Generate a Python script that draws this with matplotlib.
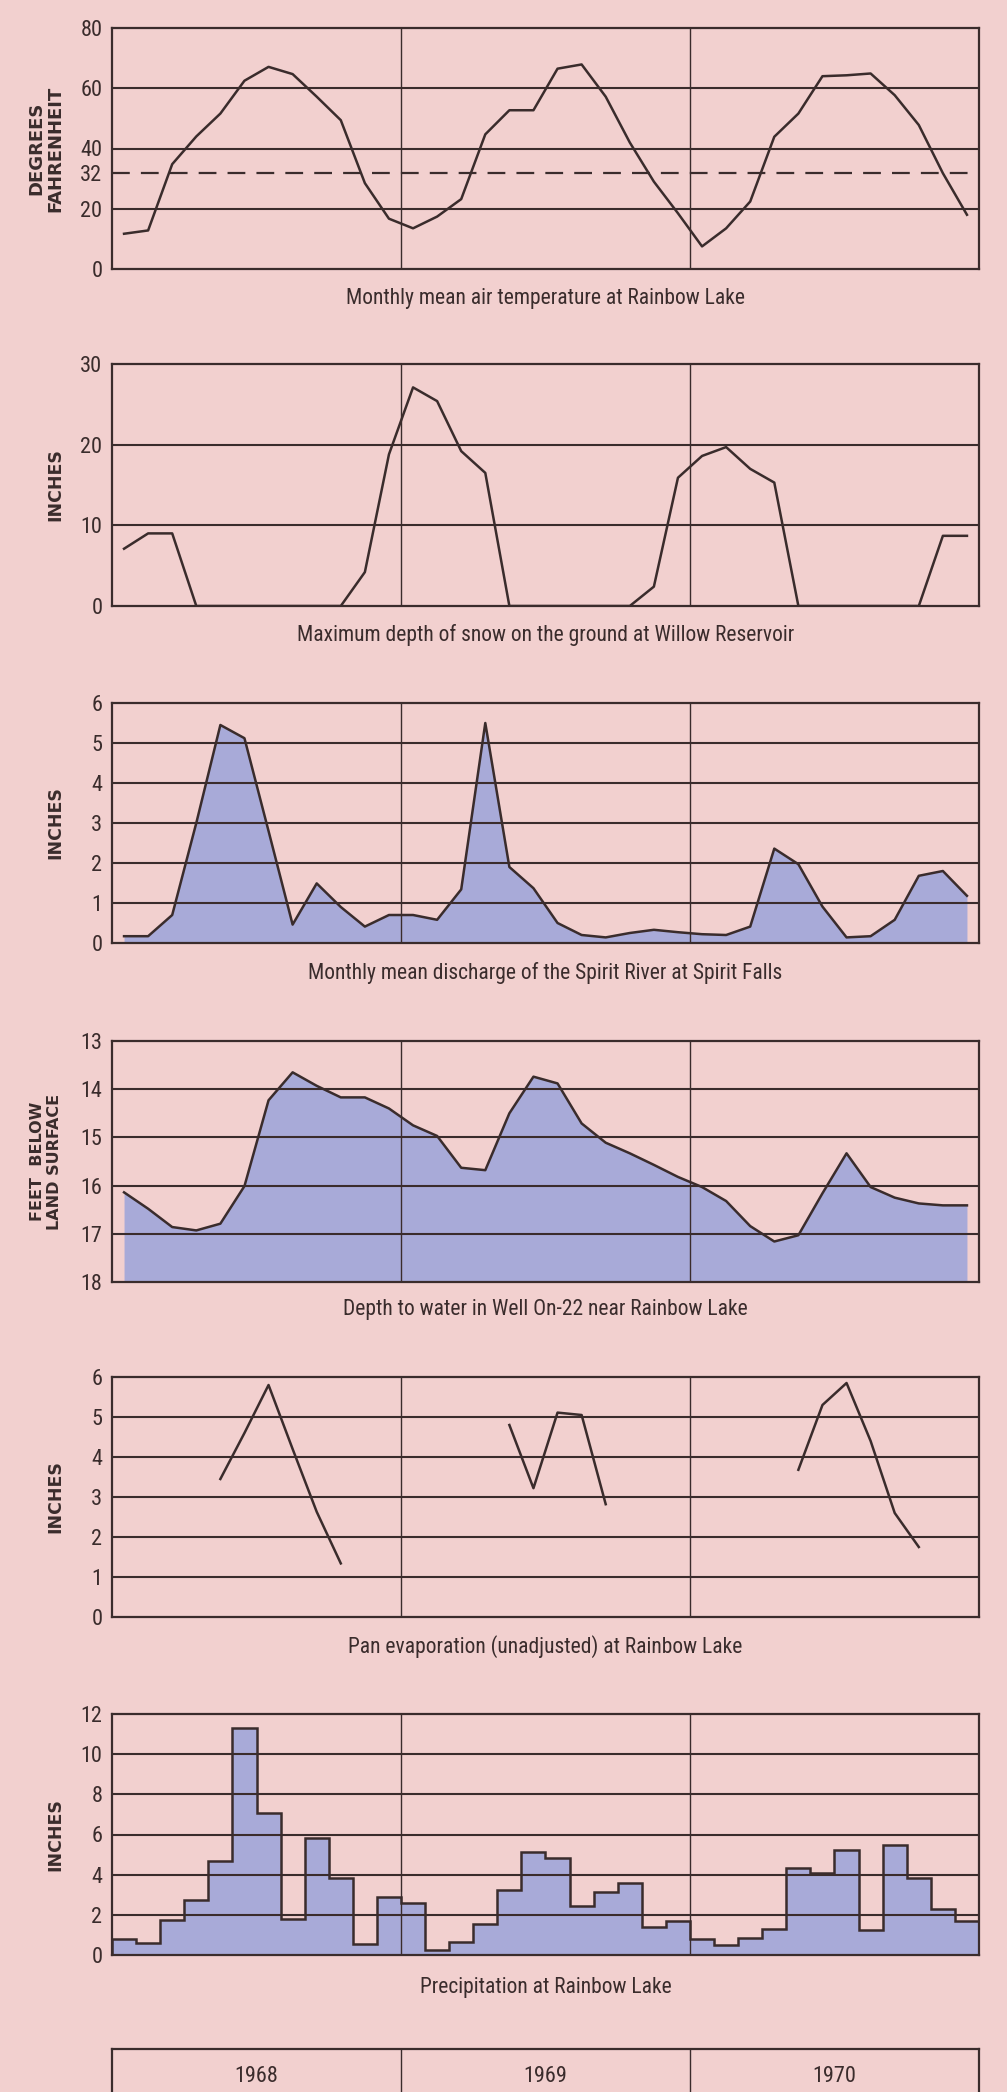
import matplotlib.pyplot as plt
import numpy as np

plt.rcParams['font.family'] = ['Roboto Condensed', 'DejaVu Sans']

# monthly values, Jan 1968 .. Dec 1970
years = ['1968', '1969', '1970']

temperature = [11.7, 12.8, 34.8, 44.0, 51.6, 62.5, 67.1, 64.7, 57.2, 49.4, 28.5, 16.7,
               13.5, 17.4, 23.2, 44.7, 52.7, 52.7, 66.5, 67.9, 57.2, 42.0, 29.0, 18.5,
               7.5, 13.5, 22.4, 43.9, 51.6, 64.0, 64.3, 64.9, 57.7, 47.8, 31.8, 18.0]

snow = [7.1, 9.0, 9.0, 0, 0, 0, 0, 0, 0, 0, 4.2, 18.8,
        27.1, 25.4, 19.2, 16.5, 0, 0, 0, 0, 0, 0, 2.4, 15.9,
        18.6, 19.7, 17.0, 15.3, 0, 0, 0, 0, 0, 0, 8.7, 8.7]

discharge = [0.17, 0.17, 0.7, 3.0, 5.45, 5.12, 2.8, 0.46, 1.49, 0.9, 0.41, 0.7,
             0.7, 0.58, 1.34, 5.5, 1.9, 1.37, 0.5, 0.2, 0.14, 0.25, 0.33, 0.27,
             0.22, 0.2, 0.41, 2.36, 1.97, 0.91, 0.14, 0.17, 0.58, 1.68, 1.8, 1.18]

well_depth = [16.14, 16.48, 16.86, 16.93, 16.79, 16.01, 14.23, 13.65, 13.93, 14.17, 14.17, 14.4,
              14.75, 14.97, 15.63, 15.68, 14.5, 13.74, 13.88, 14.71, 15.11, 15.33, 15.57, 15.82,
              16.03, 16.32, 16.84, 17.16, 17.03, 16.16, 15.33, 16.03, 16.25, 16.37, 16.41, 16.41]

nan = np.nan
evaporation = [nan, nan, nan, nan, 3.45, 4.6, 5.8, 4.2, 2.63, 1.34, nan, nan,
               nan, nan, nan, nan, 4.8, 3.22, 5.11, 5.05, 2.82, nan, nan, nan,
               nan, nan, nan, nan, 3.68, 5.3, 5.85, 4.4, 2.6, 1.75, nan, nan]

precipitation = [0.8, 0.58, 1.76, 2.72, 4.7, 11.3, 7.05, 1.81, 5.82, 3.82, 0.53, 2.89,
                 2.59, 0.23, 0.66, 1.56, 3.22, 5.15, 4.82, 2.44, 3.16, 3.57, 1.41, 1.7,
                 0.81, 0.48, 0.86, 1.28, 4.32, 4.1, 5.24, 1.23, 5.49, 3.81, 2.28, 1.7]

BG = '#f2d0cf'
FILL = '#a8aad8'
INK = '#3a2c2c'
W, H = 1007, 2092
LEFT, RIGHT = 112, 979

months = np.arange(36) + 0.5
edges = np.arange(37)

fig = plt.figure(figsize=(W / 100, H / 100), dpi=100, facecolor=BG)


def panel(top, bottom, ticks):
    ax = fig.add_axes([LEFT / W, 1 - bottom / H, (RIGHT - LEFT) / W, (bottom - top) / H])
    ax.set_facecolor(BG)
    ax.set_xlim(0, 36)
    ax.set_xticks([])
    for s in ax.spines.values():
        s.set_color(INK)
        s.set_linewidth(1.6)
    ax.set_yticks(ticks)
    ax.tick_params(axis='y', length=0, pad=7, labelsize=16, labelcolor=INK)
    for x in (12, 24):
        ax.axvline(x, color=INK, lw=1.0, zorder=2)
    return ax


def hlines(ax, levels):
    for v in levels:
        ax.axhline(v, color=INK, lw=1.5, zorder=2)


def title(text, yc):
    fig.text((LEFT + RIGHT) / 2 / W, 1 - yc / H, text, ha='center', va='center',
             fontsize=15.5, color=INK)


def ylabel(text, top, bottom, x, size=12.5):
    fig.text(x / W, 1 - (top + bottom) / 2 / H, text, rotation=90, ha='center',
             va='center', fontsize=size, fontweight='bold', color=INK,
             family='DejaVu Sans', linespacing=1.1, multialignment='center')


# air temperature
ax = panel(28, 269, [0, 20, 32, 40, 60, 80])
ax.set_ylim(0, 80)
hlines(ax, [20, 40, 60])
ax.axhline(32, color=INK, lw=1.6, dashes=(8, 5), zorder=2)
ax.plot(months, temperature, color=INK, lw=1.8, zorder=3)
ylabel('DEGREES\nFAHRENHEIT', 28, 269, 46, 13)
title('Monthly mean air temperature at Rainbow Lake', 298)

# snow depth
ax = panel(364, 606, [0, 10, 20, 30])
ax.set_ylim(0, 30)
hlines(ax, [10, 20])
ax.plot(months, snow, color=INK, lw=1.8, zorder=3)
ylabel('INCHES', 364, 606, 55)
title('Maximum depth of snow on the ground at Willow Reservoir', 635)

# discharge
ax = panel(703, 943, range(7))
ax.set_ylim(0, 6)
ax.fill_between(months, discharge, 0, color=FILL, lw=0, zorder=1)
hlines(ax, range(1, 6))
ax.plot(months, discharge, color=INK, lw=1.8, zorder=3)
ylabel('INCHES', 703, 943, 55)
title('Monthly mean discharge of the Spirit River at Spirit Falls', 973)

# well depth (inverted)
ax = panel(1041, 1282, range(13, 19))
ax.set_ylim(18, 13)
ax.fill_between(months, well_depth, 18, color=FILL, lw=0, zorder=1)
hlines(ax, range(14, 18))
ax.plot(months, well_depth, color=INK, lw=1.8, zorder=3)
ylabel('FEET  BELOW\nLAND SURFACE', 1041, 1282, 46, 11.5)
title('Depth to water in Well On-22 near Rainbow Lake', 1310)

# pan evaporation
ax = panel(1377, 1617, range(7))
ax.set_ylim(0, 6)
hlines(ax, range(1, 6))
ax.plot(months, evaporation, color=INK, lw=1.8, zorder=3)
ylabel('INCHES', 1377, 1617, 55)
title('Pan evaporation (unadjusted) at Rainbow Lake', 1647)

# precipitation
ax = panel(1714, 1955, range(0, 13, 2))
ax.set_ylim(0, 12)
ax.stairs(precipitation, edges, fill=True, color=FILL, lw=0, zorder=1)
hlines(ax, range(2, 12, 2))
ax.stairs(precipitation, edges, color=INK, lw=1.8, zorder=3)
ylabel('INCHES', 1714, 1955, 55)
title('Precipitation at Rainbow Lake', 1987)

# year strip
ax = fig.add_axes([LEFT / W, 1 - 2130 / H, (RIGHT - LEFT) / W, (2130 - 2049) / H])
ax.set_facecolor(BG)
ax.set_xlim(0, 36)
ax.set_ylim(0, 1)
ax.set_xticks([])
ax.set_yticks([])
for s in ax.spines.values():
    s.set_color(INK)
    s.set_linewidth(1.6)
for x in (12, 24):
    ax.axvline(x, color=INK, lw=1.0)
for i, yr in enumerate(years):
    ax.text(12 * i + 6, (2130 - 2077) / 81, yr, ha='center', va='center',
            fontsize=16, color=INK)

fig.savefig('out.png', dpi=100, facecolor=BG)
